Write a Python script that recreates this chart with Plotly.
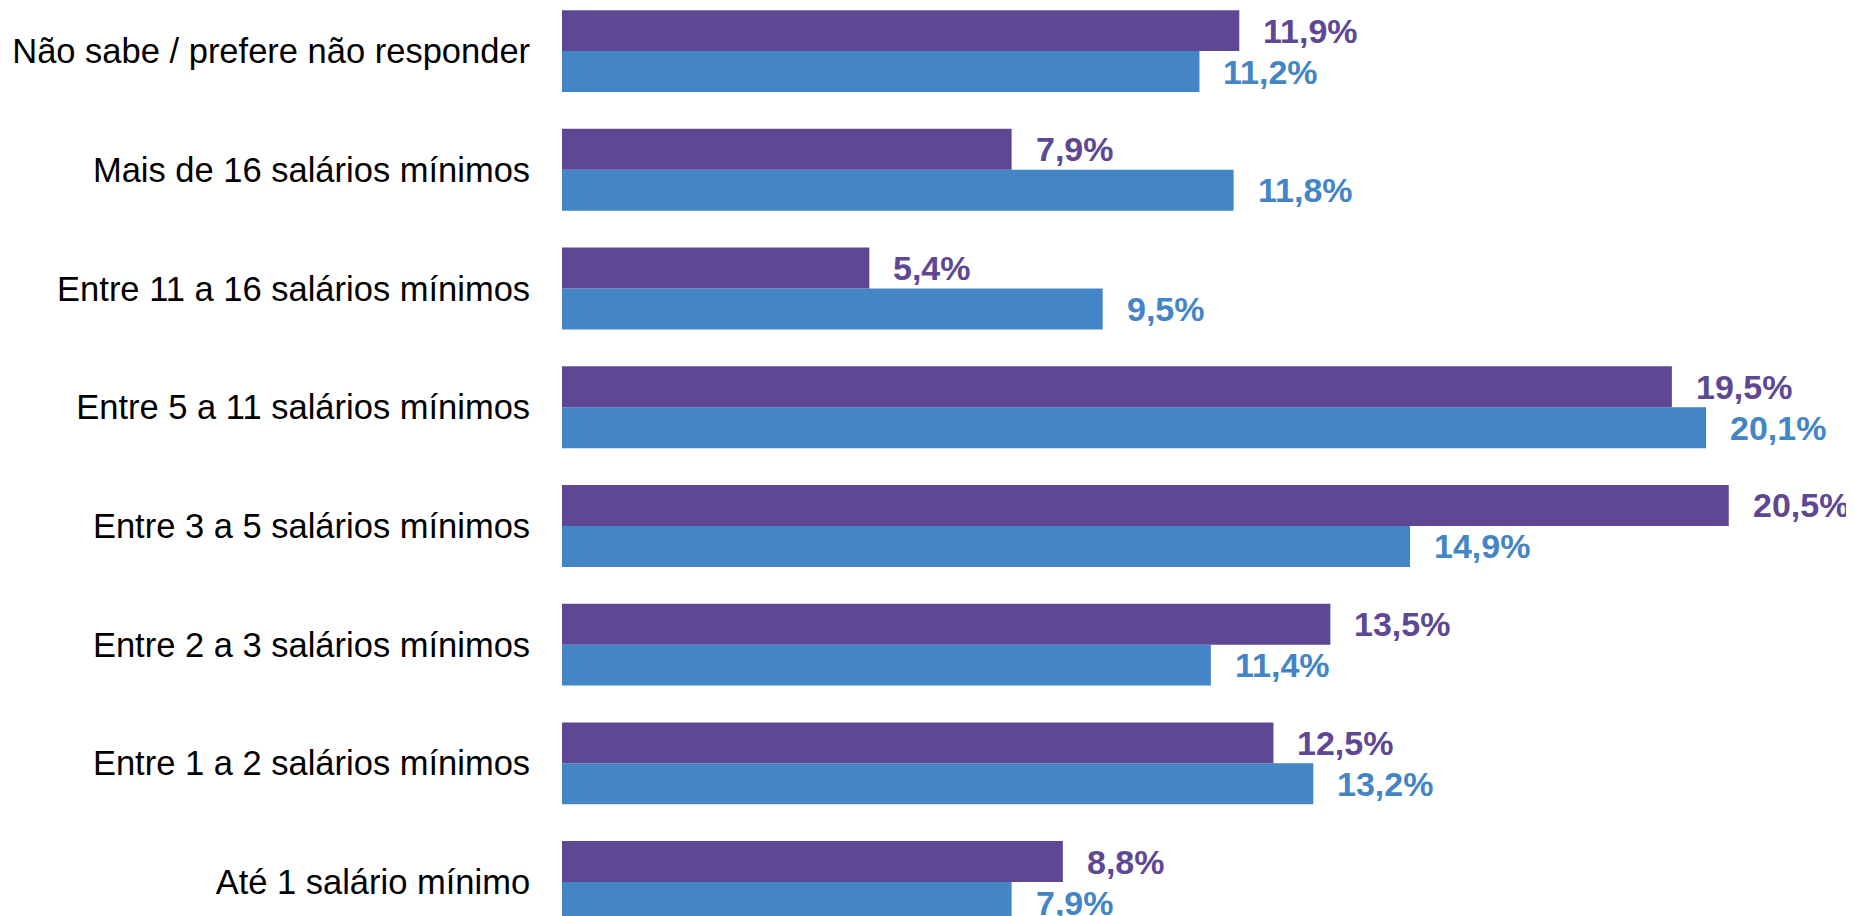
import plotly.graph_objects as go

categories = [
    "Até 1 salário mínimo",
    "Entre 1 a 2 salários mínimos",
    "Entre 2 a 3 salários mínimos",
    "Entre 3 a 5 salários mínimos",
    "Entre 5 a 11 salários mínimos",
    "Entre 11 a 16 salários mínimos",
    "Mais de 16 salários mínimos",
    "Não sabe / prefere não responder",
]
purple_values = [8.8, 12.5, 13.5, 20.5, 19.5, 5.4, 7.9, 11.9]
blue_values = [7.9, 13.2, 11.4, 14.9, 20.1, 9.5, 11.8, 11.2]

PURPLE = "#5E4894"
BLUE = "#4385C5"
BARGAP = 0.31
half = (1 - BARGAP) / 4


def fmt(v):
    return f"{v:.1f}".replace(".", ",") + "%"


fig = go.Figure()
fig.add_trace(go.Bar(y=categories, x=blue_values, orientation="h",
                     marker=dict(color=BLUE, line=dict(width=0)), name="blue"))
fig.add_trace(go.Bar(y=categories, x=purple_values, orientation="h",
                     marker=dict(color=PURPLE, line=dict(width=0)), name="purple"))

for i, (p, b) in enumerate(zip(purple_values, blue_values)):
    for v, dy, col in ((p, half, PURPLE), (b, -half, BLUE)):
        fig.add_annotation(x=v, y=i + dy, text=fmt(v), showarrow=False,
                           xanchor="left", yanchor="middle", xshift=22,
                           font=dict(family="Liberation Sans, Arial", size=34,
                                     color=col, weight="bold"))

# page body has an 8px margin, so the figure is sized to end at the window edge
fig.update_layout(
    width=1846, height=908,
    barmode="group", bargap=BARGAP, bargroupgap=0,
    showlegend=False,
    plot_bgcolor="white", paper_bgcolor="white",
    margin=dict(l=554, r=0, t=0, b=0),
    font=dict(family="Liberation Sans, Arial", color="black"),
)
fig.update_xaxes(range=[0, 22.7], visible=False, showgrid=False, zeroline=False)
fig.update_yaxes(range=[-0.286, 7.363], showgrid=False, zeroline=False, showline=False,
                 ticks="outside", ticklen=0, ticklabelstandoff=24,
                 tickfont=dict(size=34.5, color="black"))

fig.write_html("out.html")
